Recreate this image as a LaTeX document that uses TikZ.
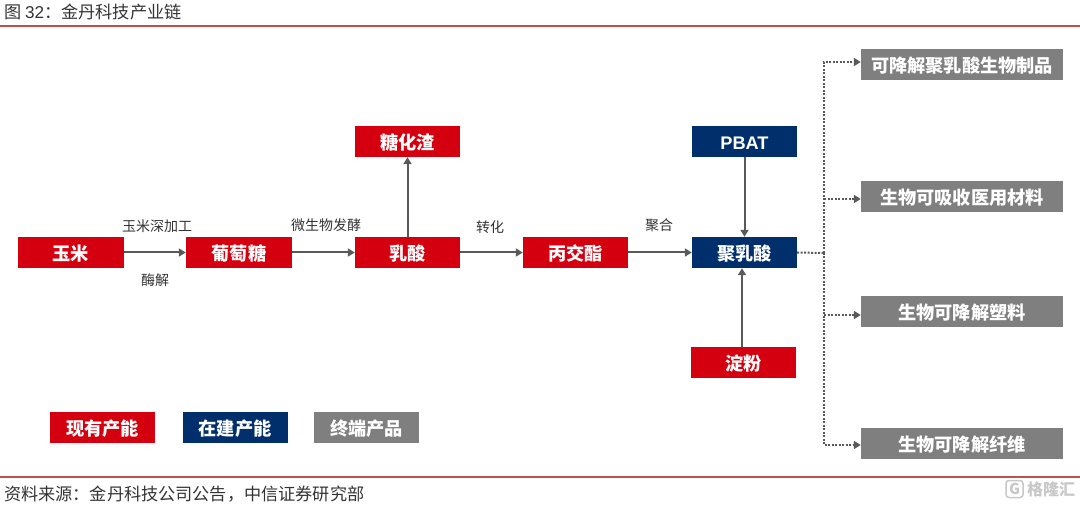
\documentclass[tikz,border=0pt]{standalone}
\usepackage{fontspec}
\setmainfont{Noto Sans CJK SC}
\newfontfamily\latinfont{Liberation Sans}
\usetikzlibrary{arrows.meta}
\definecolor{lred}{HTML}{D40010}
\definecolor{lblue}{HTML}{002F6C}
\definecolor{lgrey}{HTML}{7F7F7F}
\definecolor{dgrey}{HTML}{595959}
\definecolor{lline}{HTML}{C0504D}
\definecolor{ltext}{HTML}{333333}
\definecolor{lmark}{HTML}{C8C8C8}
\tikzset{
    box/.style={minimum width=105pt,minimum height=31pt,inner sep=0pt,text=white,text height=15.4pt,text depth=0pt,font=\fontsize{18.2}{18}\selectfont\bfseries},
    redbox/.style={box,fill=lred},
    bluebox/.style={box,fill=lblue},
    greybox/.style={box,fill=lgrey},
    endbox/.style={greybox,minimum width=202pt},
    arrowline/.style={draw=dgrey,line width=2pt,-{Triangle[length=7pt,width=8pt]}},
    dotline/.style={draw=dgrey,line width=2pt,dash pattern=on 2pt off 1.5pt},
    dotarrow/.style={dotline,-{Triangle[length=7pt,width=8pt]}},
    steplabel/.style={inner sep=0pt,text=ltext,font=\fontsize{14}{14}\selectfont},
    pagetext/.style={inner sep=0pt,anchor=west,text=ltext,font=\fontsize{17.15}{17}\selectfont},
    rule/.style={draw=lline,line width=1.5pt}
}
\begin{document}
\begin{tikzpicture}[x=1pt,y=-1pt]
    \useasboundingbox (0,0) rectangle (1080,505);
    % page title and footer
    \node[pagetext] (title) at (4,12) {图 {\latinfont 32}：金丹科技产业链};
    \node[pagetext] (source) at (4,494) {资料来源：金丹科技公司公告，中信证券研究部};
    \coordinate (topl) at (0,26);
    \coordinate (topr) at (1080,26);
    \coordinate (botl) at (0,477);
    \coordinate (botr) at (1080,477);
    \draw[rule] (topl) -- (topr);
    \draw[rule] (botl) -- (botr);
    % main chain
    \node[redbox,minimum width=106pt] (yumi) at (71,252.5) {玉米};
    \node[redbox,minimum width=106pt] (putaotang) at (239,252.5) {葡萄糖};
    \node[redbox] (rusuan) at (407.5,252.5) {乳酸};
    \node[redbox] (bingjiaozhi) at (575.5,252.5) {丙交酯};
    \node[bluebox] (jurusuan) at (744.5,252.5) {聚乳酸};
    \node[redbox] (tanghuazha) at (407.5,141.5) {糖化渣};
    \node[bluebox] (pbat) at (744.5,141.5) {\latinfont\bfseries PBAT};
    \node[redbox] (dianfen) at (743.5,362.5) {淀粉};
    \draw[arrowline] (yumi) -- (putaotang);
    \draw[arrowline] (putaotang) -- (rusuan);
    \draw[arrowline] (rusuan) -- (bingjiaozhi);
    \draw[arrowline] (bingjiaozhi) -- (jurusuan);
    \draw[arrowline] (rusuan) -- (tanghuazha);
    \draw[arrowline] (pbat) -- (jurusuan);
    \draw[arrowline] ([xshift=-1.5pt]dianfen.north) -- ([xshift=-2.5pt]jurusuan.south);
    % labels on the chain
    \node[steplabel] (shenjiagong) at (157,226) {玉米深加工};
    \node[steplabel] (meijie) at (155,280) {酶解};
    \node[steplabel] (fajiao) at (326,225) {微生物发酵};
    \node[steplabel] (zhuanhua) at (490,227) {转化};
    \node[steplabel] (juhe) at (659,225) {聚合};
    % end products
    \node[endbox] (prodA) at (962,64.5) {可降解聚乳酸生物制品};
    \node[endbox] (prodB) at (962,196.5) {生物可吸收医用材料};
    \node[endbox] (prodC) at (962,311.5) {生物可降解塑料};
    \node[endbox] (prodD) at (962,443.5) {生物可降解纤维};
    \coordinate (bus) at (824,253);
    \draw[dotline] (jurusuan.east) -- (bus);
    \draw[dotarrow] (bus) |- ([yshift=2.5pt]prodA.west);
    \draw[dotarrow] (bus) |- ([yshift=-1.5pt]prodD.west);
    \draw[dotarrow] (bus |- prodB.west) ++(0,2.5) -- ([yshift=-2.5pt]prodB.west);
    \draw[dotarrow] (bus |- prodC.west) ++(0,3.5) -- ([yshift=-3.5pt]prodC.west);
    % legend
    \node[redbox] (legA) at (102.5,427.5) {现有产能};
    \node[bluebox] (legB) at (235,427.5) {在建产能};
    \node[greybox] (legC) at (366.5,427.5) {终端产品};
    % watermark
    \node[draw=lmark,line width=1.5pt,rounded corners=3pt,minimum size=17pt,inner sep=0pt,text=lmark,font=\fontsize{15}{15}\selectfont\bfseries] (marklogo) at (1014.5,489) {G};
    \node[inner sep=0pt,anchor=west,text=lmark,font=\fontsize{16}{16}\selectfont\bfseries] (marktext) at (1027,489) {格隆汇};
\end{tikzpicture}
\end{document}
